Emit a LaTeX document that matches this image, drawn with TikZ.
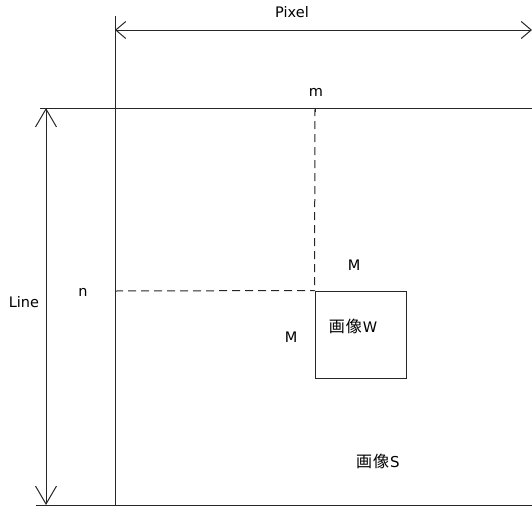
\documentclass[tikz,border=0pt]{standalone}
\usepackage{fontspec}
\setmainfont{DejaVu Sans}
\newfontfamily\cjk{Noto Sans CJK JP}
\usetikzlibrary{arrows.meta}
\begin{document}
\begin{tikzpicture}[x=1pt,y=-1pt,
  lbl/.style={font=\fontsize{14.5}{16}\selectfont, inner sep=0pt},
  cj/.style={font=\cjk\fontsize{16}{18}\selectfont, inner sep=0pt},
  ln/.style={line width=1pt, black!85},
  dsh/.style={line width=1pt, black!85, dash pattern=on 8pt off 5pt},
  bigbarb/.style={line width=1pt, black!85, {Straight Barb[length=18pt,width=21pt]}-{Straight Barb[length=18pt,width=21pt]}},
  smallbarb/.style={line width=1pt, black!85, {Straight Barb[length=10pt,width=17pt]}-{Straight Barb[length=10pt,width=17pt]}}]
\useasboundingbox (0,0) rectangle (532,506);
\begin{scope}
\clip (0,0) rectangle (532,506);
% coordinates
\coordinate (vtop) at (115,16);
\coordinate (vbot) at (115,506);
\coordinate (pl) at (115,30);
\coordinate (pr) at (532,30);
\coordinate (hl) at (40,108);
\coordinate (hr) at (532,108);
\coordinate (bl) at (36,505);
\coordinate (br) at (532,505);
\coordinate (lt) at (46,108);
\coordinate (lb) at (46,505);
\coordinate (mtop) at (315,108);
\coordinate (nleft) at (115,291);
% frame lines
\draw[ln] (vtop) -- (vbot);
\draw[ln] (hl) -- (hr);
\draw[ln] (bl) -- (br);
% dimension arrows
\draw[smallbarb] (pl) -- (pr);
\draw[bigbarb] (lt) -- (lb);
% window box
\node[draw, line width=1pt, black!85, minimum width=91pt, minimum height=87pt, inner sep=0pt] (W) at (360.5,334.5) {};
% dashed lines
\draw[dsh] (mtop) -- (W.north west);
\draw[dsh] (nleft) -- (W.north west);
\draw[ln] (mtop) -- ++(0,4);
\end{scope}
% labels
\node[lbl] (pixel) at (292,12) {Pixel};
\node[lbl] (m) at (316,92) {m};
\node[lbl] (line) at (24,302) {Line};
\node[lbl] (n) at (83,292) {n};
\node[lbl] (M1) at (354,265) {M};
\node[lbl] (M2) at (291,337) {M};
\node[cj] (wl) at (353,326) {画\kern1pt 像\kern1pt{\fontspec{DejaVu Sans}\fontsize{14.5}{16}\selectfont W}};
\node[cj] (sl) at (378,461) {画\kern1pt 像\kern1pt{\fontspec{DejaVu Sans}\fontsize{15}{16}\selectfont S}};
\end{tikzpicture}
\end{document}
